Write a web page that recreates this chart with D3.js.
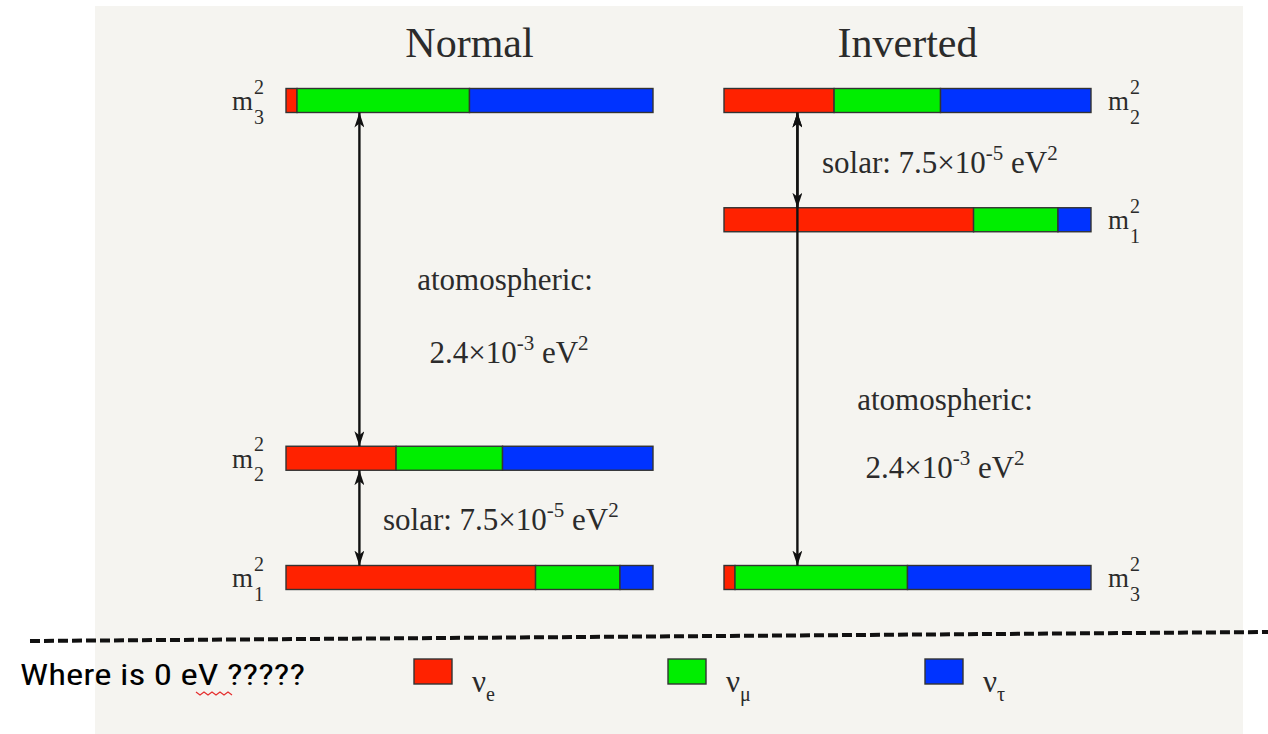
<!DOCTYPE html>
<html>
<head>
<meta charset="utf-8">
<script src="https://cdn.jsdelivr.net/npm/d3@7"></script>
<style>
  html, body { margin: 0; padding: 0; background: #ffffff; }
  svg { display: block; }
</style>
</head>
<body>
<script>
// ---------------- data ----------------
const hierarchies = ["Normal", "Inverted"];
const massStates = ["1", "2", "3"];
const flavors = ["e", "μ", "τ"];
const flavorColors = ["#ff2200", "#00ee00", "#0033ff"];
// flavour content of each mass state (m1, m2, m3)
const fracE   = [0.68, 0.30, 0.03];
const fracMu  = [0.23, 0.29, 0.47];
const fracTau = [0.09, 0.41, 0.50];
// schematic level heights (m1, m2, m3)
const normalLevels   = [0, 1, 4];
const invertedLevels = [3, 4, 0];
const splitLabels = {
  solar: "7.5×10|-5| eV|2",
  atm: "2.4×10|-3| eV|2"
};

// ---------------- layout ----------------
const W = 1268, H = 734;
const svg = d3.select("body").append("svg").attr("width", W).attr("height", H);

svg.append("rect").attr("x", 95).attr("y", 6).attr("width", 1148).attr("height", H - 6)
  .attr("fill", "#f5f4f0");

const defs = svg.append("defs");
defs.append("marker").attr("id", "ah").attr("viewBox", "0 0 15 10")
  .attr("refX", 15).attr("refY", 5).attr("markerWidth", 15).attr("markerHeight", 10)
  .attr("markerUnits", "userSpaceOnUse").attr("orient", "auto-start-reverse")
  .append("path").attr("d", "M0,0 L15,5 L0,10 L4,5 Z").attr("fill", "#111");

const y = d3.scaleLinear().domain([0, 4]).range([577.5, 100.5]);
const xN = d3.scaleLinear().domain([0, 1]).range([286, 653]);
const xI = d3.scaleLinear().domain([0, 1]).range([724, 1091]);
const barH = 24;
const serif = "'Liberation Serif', 'Times New Roman', serif";
const textCol = "#2b2b2b";

const panels = [
  { name: hierarchies[0], x: xN, levels: normalLevels, labelSide: "left" },
  { name: hierarchies[1], x: xI, levels: invertedLevels, labelSide: "right" }
];

const fracs = massStates.map((s, i) => [fracE[i], fracMu[i], fracTau[i]]);

panels.forEach(p => {
  const g = svg.append("g");
  g.append("text").attr("x", (p.x(0) + p.x(1)) / 2)
    .attr("y", 57).attr("text-anchor", "middle")
    .attr("font-family", serif).attr("font-size", 42).attr("fill", textCol)
    .text(p.name);

  massStates.forEach((s, i) => {
    const cy = y(p.levels[i]);
    const stack = d3.cumsum([0].concat(fracs[i]));
    fracs[i].forEach((f, k) => {
      g.append("rect")
        .attr("x", p.x(stack[k])).attr("y", cy - barH / 2)
        .attr("width", p.x(stack[k + 1]) - p.x(stack[k])).attr("height", barH)
        .attr("fill", flavorColors[k]).attr("stroke", "#333").attr("stroke-width", 1.4);
    });
    const lx = p.labelSide === "left" ? p.x(0) - 54 : p.x(1) + 17;
    g.append("text").attr("x", lx).attr("y", cy + 9.5)
      .attr("font-family", serif).attr("font-size", 27).attr("fill", textCol).text("m");
    g.append("text").attr("x", lx + 22).attr("y", cy - 7)
      .attr("font-family", serif).attr("font-size", 20).attr("fill", textCol).text("2");
    g.append("text").attr("x", lx + 22).attr("y", cy + 23)
      .attr("font-family", serif).attr("font-size", 20).attr("fill", textCol).text(s);
  });
});

// arrows
function arrow(xs, lvA, lvB) {
  const ya = y(lvA), yb = y(lvB);
  const top = Math.min(ya, yb) + barH / 2, bot = Math.max(ya, yb) - barH / 2;
  svg.append("line").attr("x1", xs).attr("x2", xs).attr("y1", top).attr("y2", bot)
    .attr("stroke", "#111").attr("stroke-width", 2.4)
    .attr("marker-start", "url(#ah)").attr("marker-end", "url(#ah)");
}
const ax = 0.2;
arrow(xN(ax), normalLevels[2], normalLevels[1]);
arrow(xN(ax), normalLevels[1], normalLevels[0]);
arrow(xI(ax), invertedLevels[1], invertedLevels[0]);
arrow(xI(ax), invertedLevels[1], invertedLevels[2]);

function richText(x, yb, prefix, spec, anchor) {
  const parts = spec.split("|");
  const t = svg.append("text").attr("x", x).attr("y", yb).attr("text-anchor", anchor || "start")
    .attr("font-family", serif).attr("font-size", 31).attr("fill", textCol);
  t.append("tspan").text(prefix + parts[0]);
  t.append("tspan").attr("dy", -13).attr("font-size", 21).text(parts[1]);
  t.append("tspan").attr("dy", 13).text(parts[2]);
  t.append("tspan").attr("dy", -13).attr("font-size", 21).text(parts[3]);
  return t;
}
function plainText(x, yb, s) {
  svg.append("text").attr("x", x).attr("y", yb).attr("text-anchor", "middle")
    .attr("font-family", serif).attr("font-size", 31).attr("fill", textCol).text(s);
}

plainText(505, 290, "atomospheric:");
richText(509, 363, "", splitLabels.atm, "middle");
richText(383, 530, "solar: ", splitLabels.solar, "start");
richText(822, 173, "solar: ", splitLabels.solar, "start");
plainText(945, 410, "atomospheric:");
richText(945, 478, "", splitLabels.atm, "middle");

// dashed zero line
svg.append("line").attr("x1", 30).attr("y1", 641).attr("x2", W).attr("y2", 632)
  .attr("stroke", "#111").attr("stroke-width", 4).attr("stroke-dasharray", "10,4");

// bottom question
svg.append("text").attr("x", 20).attr("y", 685)
  .attr("font-family", "'Liberation Sans Narrow', 'Roboto Condensed', 'Liberation Sans', sans-serif")
  .attr("font-size", 30)
  .attr("textLength", 285).attr("lengthAdjust", "spacingAndGlyphs")
  .attr("fill", "#000").text("Where is 0 eV ?????");
const sq = d3.range(0, 10).map(i => [196 + i * 4, 693 + (i % 2 ? 2 : -1)]);
svg.append("path").attr("d", d3.line()(sq)).attr("fill", "none")
  .attr("stroke", "#e53030").attr("stroke-width", 1.2);

// legend
const legX = [414, 668, 925];
flavors.forEach((f, k) => {
  svg.append("rect").attr("x", legX[k]).attr("y", 659).attr("width", 38).attr("height", 25)
    .attr("fill", flavorColors[k]).attr("stroke", "#333").attr("stroke-width", 1.4);
  const t = svg.append("text").attr("x", legX[k] + 58).attr("y", 692)
    .attr("font-family", serif).attr("font-size", 31).attr("fill", textCol);
  t.append("tspan").text("ν");
  t.append("tspan").attr("dy", 9).attr("font-size", 20).text(f);
});
</script>
</body>
</html>
